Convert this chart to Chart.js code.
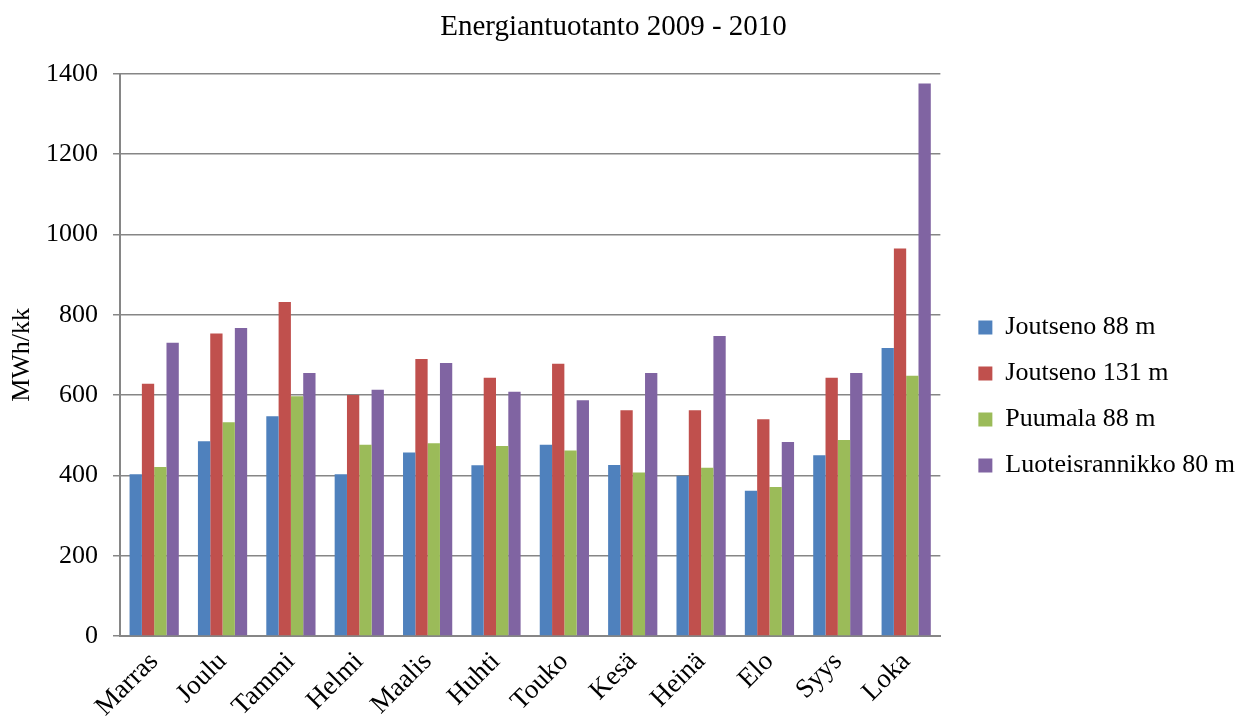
<!DOCTYPE html>
<html>
<head>
<meta charset="utf-8">
<script src="https://cdn.jsdelivr.net/npm/chart.js@4/dist/chart.umd.min.js"></script>
<style>
  html, body { margin: 0; padding: 0; background: #fff; }
  #energyChart { display: block; }
</style>
</head>
<body>
<canvas id="energyChart" width="1239" height="719"></canvas>
<script>
const months = ['Marras', 'Joulu', 'Tammi', 'Helmi', 'Maalis', 'Huhti', 'Touko', 'Kesä', 'Heinä', 'Elo', 'Syys', 'Loka'];
const joutseno88 = [403, 485, 547, 403, 457, 425, 476, 426, 399, 362, 450, 717];
const joutseno131 = [628, 753, 832, 600, 690, 643, 678, 562, 562, 540, 643, 965];
const puumala88 = [421, 532, 597, 476, 480, 473, 462, 407, 419, 371, 488, 648];
const luoteis80 = [730, 767, 655, 613, 680, 608, 587, 655, 747, 483, 655, 1376];
const yTicks = [0, 200, 400, 600, 800, 1000, 1200, 1400];

const font = 'Liberation Serif';
const gridGray = '#868686';

// nudge the legend to where Excel put it
const legendShift = {
  id: 'legendShift',
  afterLayout(chart) {
    const l = chart.legend;
    l.left += 18; l.right += 18;
    l.top += 37; l.bottom += 37;
  }
};

new Chart(document.getElementById('energyChart'), {
  type: 'bar',
  data: {
    labels: months,
    datasets: [
      { label: 'Joutseno 88 m', data: joutseno88, backgroundColor: '#4F81BD' },
      { label: 'Joutseno 131 m', data: joutseno131, backgroundColor: '#C0504D' },
      { label: 'Puumala 88 m', data: puumala88, backgroundColor: '#9BBB59' },
      { label: 'Luoteisrannikko 80 m', data: luoteis80, backgroundColor: '#8064A2' },
    ],
  },
  options: {
    responsive: false,
    animation: false,
    layout: { padding: { left: 0, right: 12, top: 0, bottom: 0 } },
    datasets: { bar: { categoryPercentage: 0.72, barPercentage: 1.0, borderWidth: 0 } },
    plugins: {
      title: {
        display: true,
        text: 'Energiantuotanto 2009 - 2010',
        color: '#000',
        font: { family: font, size: 29, weight: 'normal' },
        padding: { top: 10, bottom: 29 },
      },
      legend: {
        position: 'right',
        labels: {
          color: '#000',
          font: { family: font, size: 26 },
          boxWidth: 14,
          boxHeight: 14,
          padding: 20,
        },
      },
      tooltip: { enabled: false },
    },
    scales: {
      x: {
        grid: { display: false },
        border: { display: true, color: gridGray, width: 2 },
        ticks: {
          color: '#000',
          font: { family: font, size: 27 },
          minRotation: 45,
          maxRotation: 45,
          autoSkip: false,
          padding: 2,
        },
        afterFit(scale) { scale.height = 83; },
      },
      y: {
        min: 0,
        max: 1400,
        afterBuildTicks(scale) { scale.ticks = yTicks.map(v => ({ value: v })); },
        grid: { color: gridGray, lineWidth: 1.5, tickLength: 7 },
        border: { display: true, color: gridGray, width: 2 },
        ticks: {
          color: '#000',
          font: { family: font, size: 26 },
          padding: 15,
          callback: (v) => String(v),
        },
        title: {
          display: true,
          text: 'MWh/kk',
          color: '#000',
          font: { family: font, size: 26 },
          padding: { top: 7, bottom: 0 },
        },
        afterFit(scale) { scale.width = 120; },
      },
    },
  },
  plugins: [legendShift],
});
</script>
</body>
</html>
